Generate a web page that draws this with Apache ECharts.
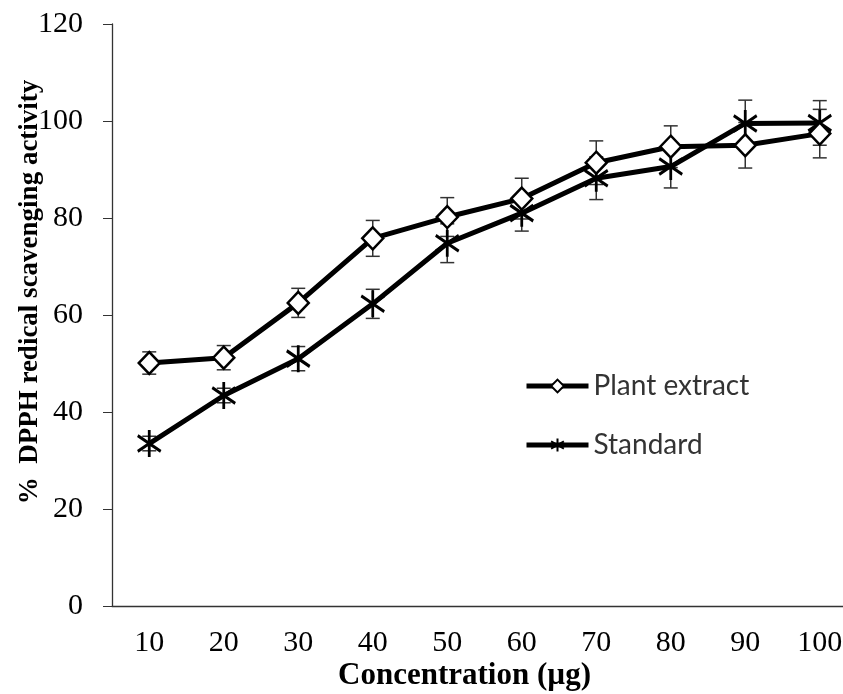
<!DOCTYPE html>
<html>
<head>
<meta charset="utf-8">
<script src="https://cdn.jsdelivr.net/npm/echarts@6/dist/echarts.min.js"></script>
<style>
  html, body { margin: 0; padding: 0; background: #fff; }
  #main { width: 843px; height: 694px; }
</style>
</head>
<body>
<div id="main"></div>
<script>
var categories = ['10', '20', '30', '40', '50', '60', '70', '80', '90', '100'];
var plantExtract = [50.1, 51.2, 62.5, 75.8, 80.2, 84.0, 91.4, 94.7, 95.0, 97.4];
var plantError   = [2.3, 2.5, 3.0, 3.7, 4.0, 4.2, 4.5, 4.3, 4.7, 5.0];
var standard     = [33.5, 43.4, 51.0, 62.3, 74.8, 81.0, 88.2, 90.6, 99.5, 99.6];
var standardError = [1.5, 1.5, 2.5, 3.0, 4.0, 3.7, 4.4, 4.4, 4.8, 4.6];

var myChart = echarts.init(document.getElementById('main'));

function errData(vals, errs) {
  var out = [];
  for (var i = 0; i < vals.length; i++) {
    out.push([i, vals[i] - errs[i], vals[i] + errs[i]]);
  }
  return out;
}

// vertical error bar with caps
function renderErr(params, api) {
  var lo = api.coord([api.value(0), api.value(1)]);
  var hi = api.coord([api.value(0), api.value(2)]);
  var w = 7;
  var st = { stroke: '#333', lineWidth: 1.5 };
  return {
    type: 'group',
    children: [
      { type: 'line', shape: { x1: lo[0], y1: lo[1], x2: hi[0], y2: hi[1] }, style: st },
      { type: 'line', shape: { x1: lo[0] - w, y1: lo[1], x2: lo[0] + w, y2: lo[1] }, style: st },
      { type: 'line', shape: { x1: hi[0] - w, y1: hi[1], x2: hi[0] + w, y2: hi[1] }, style: st }
    ]
  };
}

var asterisk = 'path://M10,0L10,24M1,5L19,19M1,19L19,5';

var option = {
  animation: false,
  backgroundColor: '#fff',
  grid: { left: 112, top: 24, right: -14, bottom: 88, outerBoundsMode: 'none' },
  legend: {
    orient: 'vertical',
    left: 519,
    top: 367,
    itemWidth: 62,
    itemHeight: 16,
    itemGap: 31,
    lineStyle: { width: 5 },
    textStyle: { fontFamily: 'Lato', fontSize: 28, color: '#333' },
    data: ['Plant extract', 'Standard']
  },
  xAxis: {
    type: 'category',
    data: categories,
    name: 'Concentration (µg)',
    nameLocation: 'middle',
    nameGap: 54,
    nameMoveOverlap: false,
    nameTextStyle: { fontFamily: 'Liberation Serif', fontWeight: 'bold', fontSize: 31, color: '#000', padding: [0, 40, 0, 0] },
    axisLine: { lineStyle: { color: '#333', width: 1.3 } },
    axisTick: { length: 10, lineStyle: { color: '#333' } },
    axisLabel: { fontFamily: 'Liberation Serif', fontSize: 30, color: '#000', margin: 22 }
  },
  yAxis: {
    type: 'value',
    min: 0,
    max: 120,
    interval: 20,
    name: '%  DPPH redical scavenging activity',
    nameLocation: 'middle',
    nameGap: 68,
    nameRotate: 90,
    nameMoveOverlap: false,
    nameTextStyle: { fontFamily: 'Liberation Serif', fontWeight: 'bold', fontSize: 27, color: '#000', padding: [0, 0, 0, 46] },
    splitLine: { show: false },
    axisLine: { show: true, lineStyle: { color: '#333', width: 1.3 } },
    axisTick: { show: true, length: 9, lineStyle: { color: '#333' } },
    axisLabel: { fontFamily: 'Liberation Serif', fontSize: 30, color: '#000', margin: 29 }
  },
  series: [
    {
      type: 'custom',
      renderItem: renderErr,
      data: errData(plantExtract, plantError),
      z: 1,
      silent: true
    },
    {
      type: 'custom',
      renderItem: renderErr,
      data: errData(standard, standardError),
      z: 1,
      silent: true
    },
    {
      name: 'Standard',
      type: 'line',
      data: standard,
      z: 3,
      symbol: asterisk,
      symbolSize: [23, 27],
      lineStyle: { color: '#000', width: 5 },
      itemStyle: { color: '#000', borderColor: '#000', borderWidth: 3 }
    },
    {
      name: 'Plant extract',
      type: 'line',
      data: plantExtract,
      z: 4,
      symbol: 'diamond',
      symbolSize: [21, 22],
      lineStyle: { color: '#000', width: 5 },
      itemStyle: { color: '#fff', borderColor: '#000', borderWidth: 2.5 }
    }
  ]
};

myChart.setOption(option);
</script>
</body>
</html>
